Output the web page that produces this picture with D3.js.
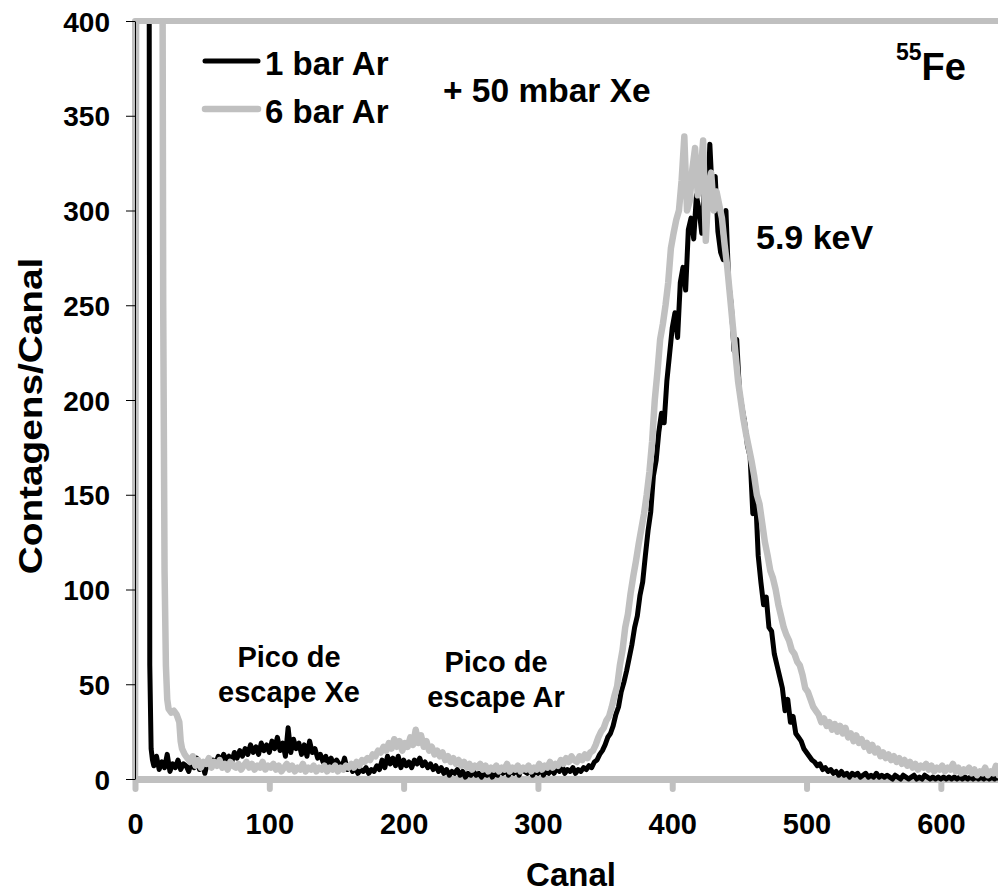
<!DOCTYPE html>
<html lang="pt">
<head>
<meta charset="utf-8">
<script src="https://cdn.jsdelivr.net/npm/d3@7"></script>
<title>Espectro 55Fe</title>
<style>
  body { margin: 0; background: #fff; }
  text { font-family: "Liberation Sans", Arial, sans-serif; font-weight: bold; fill: #000; }
</style>
</head>
<body>
<script>
// ticks
var xTicks = [0, 100, 200, 300, 400, 500, 600];
var yTicks = [0, 50, 100, 150, 200, 250, 300, 350, 400];

// 1 bar Ar + 50 mbar Xe : first channels by hand, then every 2 channels from 14
var blackHeadCh  = [0, 1, 10, 11, 12, 13];
var blackHeadCnt = [0, 900, 900, 60, 16, 10];
var blackCnt = [
  7, 12, 5, 9, 6, 13, 4, 8, 6, 10,
  5, 8, 7, 4, 9, 6, 11, 5, 8, 3,
  9, 7, 10, 8, 12, 9, 13, 10, 12, 9,
  14, 11, 15, 12, 16, 13, 18, 14, 17, 13,
  19, 15, 18, 14, 20, 16, 22, 15, 19, 12,
  27, 14, 21, 16, 19, 13, 18, 12, 20, 14,
  16, 11, 13, 9, 12, 8, 11, 7, 10, 8,
  6, 11, 5, 7, 4, 6, 3, 5, 4, 6,
  3, 5, 4, 7, 5, 10, 6, 12, 8, 11,
  7, 12, 6, 10, 7, 9, 6, 10, 8, 11,
  7, 9, 6, 8, 5, 7, 4, 6, 3, 5,
  2, 4, 3, 5, 2, 4, 1, 3, 2, 4,
  2, 3, 1, 3, 2, 4, 1, 3, 2, 5,
  3, 6, 2, 4, 3, 5, 2, 6, 4, 3,
  5, 2, 4, 3, 6, 2, 4, 3, 5, 3,
  6, 4, 7, 3, 5, 4, 6, 3, 5, 4,
  6, 5, 7, 6, 9, 10, 13, 15, 18, 22,
  24, 28, 34, 38, 46, 51, 57, 64, 71, 80,
  86, 97, 104, 118, 131, 141, 160, 168, 183, 193,
  188, 210, 224, 238, 246, 233, 262, 270, 258, 290,
  296, 285, 308, 300, 288, 312, 298, 335, 306, 318,
  289, 278, 274, 300, 262, 250, 226, 232, 205, 196,
  188, 176, 170, 140, 150, 118, 104, 92, 96, 80,
  78, 66, 60, 54, 48, 36, 42, 30, 33, 24,
  22, 20, 16, 14, 12, 10, 9, 7, 8, 5,
  6, 4, 5, 3, 4, 2, 4, 2, 3, 1,
  3, 2, 3, 1, 2, 3, 1, 2, 1, 3,
  1, 2, 1, 2, 1, 0, 2, 1, 0, 2,
  1, 0, 1, 2, 0, 1, 0, 2, 1, 0,
  1, 0, 1, 0, 1, 0, 1, 0, 1, 0,
  1, 0, 1, 0, 1, 0, 1, 0, 1, 0,
  1, 0, 1, 0, 1, 0, 1, 0, 1, 0
];
var blackCh = blackHeadCh.concat(d3.range(14, 14 + 2 * blackCnt.length, 2));

// 6 bar Ar + 50 mbar Xe : first channels by hand, then every 2 channels from 41
var grayHeadCh  = [0, 2, 19, 20, 21, 22, 23, 24, 25, 27, 29, 31, 33, 34, 35, 37, 39];
var grayHeadCnt = [0, 1000, 1000, 600, 250, 110, 60, 42, 37, 35, 36, 34, 30, 20, 16, 13, 11];
var grayCnt = [
  9, 12, 7, 10, 6, 9, 8, 11, 6, 9,
  7, 10, 6, 8, 5, 9, 7, 6, 8, 5,
  7, 9, 6, 8, 5, 7, 6, 9, 5, 7,
  6, 8, 5, 7, 4, 6, 8, 5, 7, 4,
  6, 5, 8, 4, 6, 5, 7, 4, 6, 5,
  7, 4, 6, 5, 7, 4, 6, 5, 7, 6,
  8, 6, 9, 7, 10, 9, 11, 10, 13, 12,
  15, 14, 17, 15, 19, 16, 21, 17, 20, 15,
  19, 17, 22, 18, 26, 19, 23, 17, 20, 15,
  17, 13, 15, 12, 14, 10, 12, 9, 11, 8,
  10, 7, 9, 6, 8, 5, 7, 6, 8, 5,
  7, 4, 6, 5, 7, 4, 6, 5, 8, 4,
  6, 5, 7, 4, 6, 5, 7, 4, 6, 5,
  8, 5, 7, 6, 9, 6, 8, 7, 10, 8,
  11, 9, 12, 10, 9, 12, 10, 13, 11, 14,
  15, 18, 22, 25, 27, 31, 33, 38, 44, 49,
  60, 68, 80, 87, 98, 107, 115, 124, 132, 140,
  150, 162, 178, 200, 215, 232, 240, 250, 262, 280,
  288, 295, 300, 316, 339, 300, 305, 322, 333, 308,
  318, 337, 284, 312, 320, 300, 310, 303, 296, 282,
  270, 255, 240, 225, 210, 200, 190, 182, 175, 168,
  160, 150, 145, 135, 125, 118, 110, 106, 100, 92,
  86, 80, 76, 73, 68, 66, 62, 60, 55, 48,
  46, 42, 38, 36, 34, 30, 32, 28, 30, 26,
  29, 25, 28, 24, 27, 22, 24, 20, 23, 19,
  21, 17, 19, 15, 18, 14, 16, 12, 14, 11,
  13, 10, 12, 9, 11, 8, 10, 7, 9, 6,
  8, 5, 7, 6, 8, 5, 7, 4, 6, 5,
  7, 4, 6, 5, 8, 4, 6, 3, 5, 4,
  6, 3, 5, 2, 4, 3, 6, 2, 4, 3,
  7, 2, 4, 3, 5, 3, 6, 2, 4, 3
];
var grayCh = grayHeadCh.concat(d3.range(41, 41 + 2 * grayCnt.length, 2));

var seriesNames = ["1 bar Ar", "6 bar Ar"];
var seriesColors = ["#000000", "#c0c0c0"];

// svg size and scales
var w = 998, h = 892;
var svg = d3.select("body").append("svg")
    .attr("width", w)
    .attr("height", h);

var x = d3.scaleLinear().domain([0, 650]).range([135, 1008]);
var y = d3.scaleLinear().domain([0, 400]).range([779, 21]);

// x axis (grey, thick)
var xaxis = d3.axisBottom(x).tickValues(xTicks).tickSize(10).tickSizeOuter(0);
var gx = svg.append("g")
    .attr("transform", "translate(0," + y(0) + ")")
    .call(xaxis);
gx.select(".domain").attr("stroke", "#c0c0c0").attr("stroke-width", 7);
gx.selectAll(".tick line").attr("stroke", "#c0c0c0").attr("stroke-width", 6).attr("stroke-linecap", "round");
gx.selectAll(".tick text")
    .attr("y", 55).attr("dy", 0)
    .style("font-size", "29px");

// series
svg.append("clipPath").attr("id", "plotclip")
  .append("rect")
    .attr("x", x(0)).attr("y", y(400))
    .attr("width", x(650) - x(0)).attr("height", y(0) - y(400) + 6);

var line = d3.line()
    .x(function(d) { return x(d[0]); })
    .y(function(d) { return y(d[1]); });

var blackData = d3.zip(blackCh, blackHeadCnt.concat(blackCnt));
var grayData = d3.zip(grayCh, grayHeadCnt.concat(grayCnt));

var plot = svg.append("g").attr("clip-path", "url(#plotclip)");
plot.append("path").datum(blackData)
    .attr("d", line)
    .attr("fill", "none")
    .attr("stroke", seriesColors[0])
    .attr("stroke-width", 5)
    .attr("stroke-linejoin", "round")
    .attr("stroke-linecap", "round");
plot.append("path").datum(grayData)
    .attr("d", line)
    .attr("fill", "none")
    .attr("stroke", seriesColors[1])
    .attr("stroke-width", 6.5)
    .attr("stroke-linejoin", "round")
    .attr("stroke-linecap", "round");

// plot area frame, top and left
svg.append("path")
    .attr("d", "M" + x(0) + "," + y(0) + "V" + y(400) + "H" + x(650))
    .attr("fill", "none")
    .attr("stroke", "#c0c0c0")
    .attr("stroke-width", 6)
    .attr("stroke-linejoin", "round");

// y axis (thin black)
var yaxis = d3.axisLeft(y).tickValues(yTicks).tickSize(9).tickSizeOuter(0);
var gy = svg.append("g")
    .attr("transform", "translate(" + x(0) + ",0)")
    .call(yaxis);
gy.select(".domain").attr("stroke", "#000").attr("stroke-width", 1);
gy.selectAll(".tick line").attr("stroke", "#000");
gy.selectAll(".tick text")
    .attr("x", -25).attr("dy", "0.36em")
    .style("font-size", "28px");

// axis titles
svg.append("text")
    .attr("x", 571).attr("y", 886)
    .style("text-anchor", "middle")
    .style("font-size", "33px")
    .text("Canal");
svg.append("text")
    .attr("transform", "translate(42,416) rotate(-90) scale(1.14,1)")
    .style("text-anchor", "middle")
    .style("font-size", "34px")
    .text("Contagens/Canal");

// legend
var legend = svg.append("g");
seriesNames.forEach(function(name, i) {
  var ly = [61, 109][i];
  legend.append("line")
      .attr("x1", 205).attr("x2", 258)
      .attr("y1", ly).attr("y2", ly)
      .attr("stroke", seriesColors[i])
      .attr("stroke-width", i == 0 ? 5 : 6.5)
      .attr("stroke-linecap", "round");
  legend.append("text")
      .attr("x", 265).attr("y", ly + 14)
      .style("font-size", "33px")
      .text(name);
});

// annotations
svg.append("text").attr("x", 443).attr("y", 102).style("font-size", "33.5px").text("+ 50 mbar Xe");
svg.append("text").attr("x", 756).attr("y", 249).style("font-size", "34px").text("5.9 keV");

var fe = svg.append("text").attr("x", 896).attr("y", 80);
fe.append("tspan").attr("dy", -20).style("font-size", "23px").text("55");
fe.append("tspan").attr("dy", 20).style("font-size", "38px").text("Fe");

var picos = [
  {cx: 289, lines: ["Pico de", "escape Xe"], y0: 667},
  {cx: 496, lines: ["Pico de", "escape Ar"], y0: 672}
];
picos.forEach(function(p) {
  p.lines.forEach(function(t, i) {
    svg.append("text")
        .attr("x", p.cx).attr("y", p.y0 + i * 35)
        .style("text-anchor", "middle")
        .style("font-size", "29px")
        .text(t);
  });
});
</script>
</body>
</html>
